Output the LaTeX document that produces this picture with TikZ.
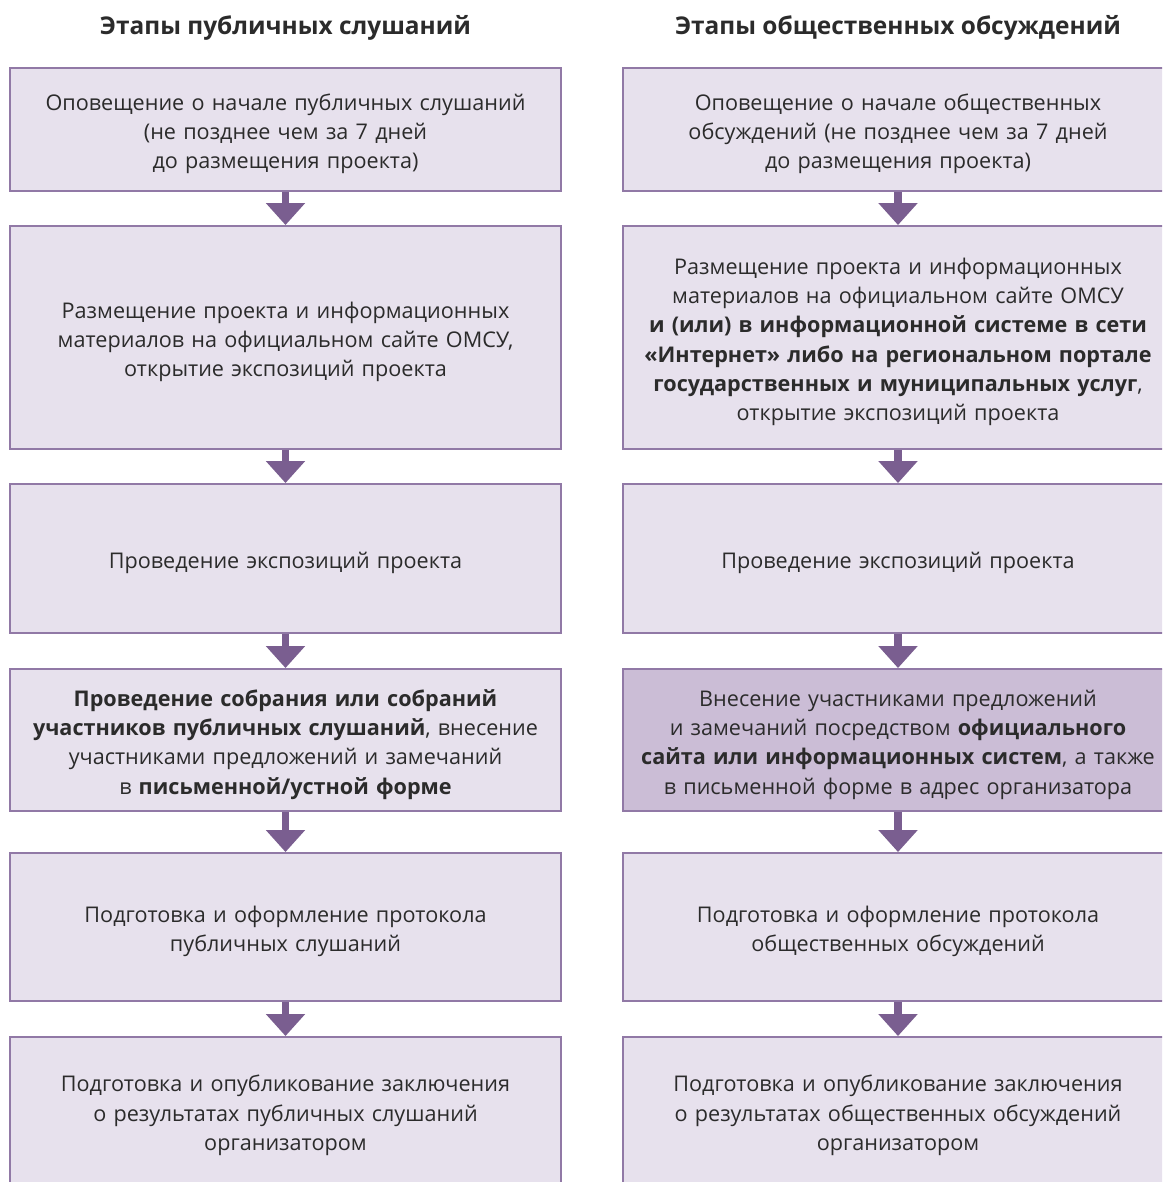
\documentclass[tikz,border=0pt]{standalone}
\usepackage{fontspec}
\setmainfont{Open Sans}
\usetikzlibrary{arrows.meta}
\definecolor{boxfill}{HTML}{E7E1ED}
\definecolor{boxhl}{HTML}{CBBDD6}
\definecolor{boxline}{HTML}{9179A6}
\definecolor{arrowc}{HTML}{7A5E90}
\definecolor{textc}{HTML}{2B2B2B}
\begin{document}
\begin{tikzpicture}[x=0.02cm,y=-0.02cm,
    stage/.style={draw=boxline, line width=1.1pt, fill=boxfill, text=textc,
      align=center, text width=10.8cm, inner xsep=0.11cm,
      execute at begin node={\rule{0pt}{14.5pt}},
      font=\fontsize{12.3}{16.7}\selectfont},
    title/.style={text=textc, font=\fontsize{13.9}{16}\selectfont\bfseries},
    down/.style={arrowc, line width=4.5pt, -{Triangle[width=0.76cm,length=0.44cm]}}]
  \useasboundingbox (0,0) rectangle (1162,1182);
  \clip (0,0) rectangle (1162,1182);

  % Заголовки
  \node[title] (tl) at (285.5,28) {Этапы публичных слушаний};
  \node[title] (tr) at (898,28) {Этапы общественных обсуждений};

  % Публичные слушания
  \node[stage, minimum height=2.46cm] (l1) at (285.5,129.5)
    {Оповещение о начале публичных слушаний\\(не позднее чем за 7 дней\\до размещения проекта)};
  \node[stage, minimum height=4.46cm] (l2) at (285.5,337.5)
    {Размещение проекта и информационных\\материалов на официальном сайте ОМСУ,\\открытие экспозиций проекта};
  \node[stage, minimum height=2.98cm] (l3) at (285.5,558.5)
    {Проведение экспозиций проекта};
  \node[stage, minimum height=2.84cm] (l4) at (285.5,740)
    {\textbf{Проведение собрания или собраний}\\\textbf{участников публичных слушаний}, внесение\\участниками предложений и замечаний\\в \textbf{письменной/устной форме}};
  \node[stage, minimum height=2.96cm] (l5) at (285.5,927)
    {Подготовка и оформление протокола\\публичных слушаний};
  \node[stage, minimum height=2.96cm] (l6) at (285.5,1111)
    {Подготовка и опубликование заключения\\о результатах публичных слушаний\\организатором};

  % Общественные обсуждения
  \node[stage, minimum height=2.46cm] (r1) at (898,129.5)
    {Оповещение о начале общественных\\обсуждений (не позднее чем за 7 дней\\до размещения проекта)};
  \node[stage, minimum height=4.46cm] (r2) at (898,337.5)
    {Размещение проекта и информационных\\материалов на официальном сайте ОМСУ\\\textbf{и (или) в информационной системе в сети}\\\textbf{«Интернет» либо на региональном портале}\\\textbf{государственных и муниципальных услуг},\\открытие экспозиций проекта};
  \node[stage, minimum height=2.98cm] (r3) at (898,558.5)
    {Проведение экспозиций проекта};
  \node[stage, fill=boxhl, minimum height=2.84cm] (r4) at (898,740)
    {Внесение участниками предложений\\и замечаний посредством \textbf{официального}\\\textbf{сайта или информационных систем}, а также\\в письменной форме в адрес организатора};
  \node[stage, minimum height=2.96cm] (r5) at (898,927)
    {Подготовка и оформление протокола\\общественных обсуждений};
  \node[stage, minimum height=2.96cm] (r6) at (898,1111)
    {Подготовка и опубликование заключения\\о результатах общественных обсуждений\\организатором};

  % Стрелки
  \foreach \a/\b in {1/2,2/3,3/4,4/5,5/6} {
    \draw[down] (l\a.south) -- (l\b.north);
    \draw[down] (r\a.south) -- (r\b.north);
  }
\end{tikzpicture}
\end{document}
